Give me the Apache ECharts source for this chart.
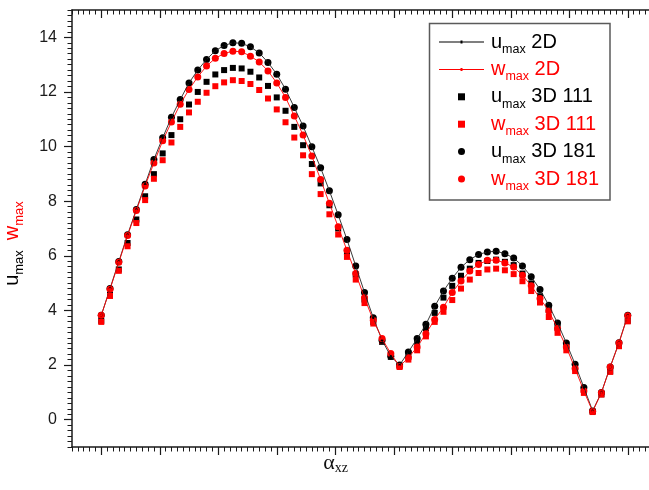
<!DOCTYPE html>
<html>
<head>
<meta charset="utf-8">
<script src="https://cdn.jsdelivr.net/npm/echarts@6/dist/echarts.min.js"></script>
<style>
  html, body { margin: 0; padding: 0; background: #ffffff; }
  #chart { width: 649px; height: 490px; }
</style>
</head>
<body>
<div id="chart"></div>
<script>
// Angle alpha_xz (degrees), one sample every 3 degrees
const alphaXZ = [0, 3, 6, 9, 12, 15, 18, 21, 24, 27, 30, 33, 36, 39, 42, 45, 48, 51, 54, 57,
  60, 63, 66, 69, 72, 75, 78, 81, 84, 87, 90, 93, 96, 99, 102, 105, 108, 111, 114, 117,
  120, 123, 126, 129, 132, 135, 138, 141, 144, 147, 150, 153, 156, 159, 162, 165, 168, 171, 174, 177, 180];

// u_max and w_max, 2D solution
const uMax2D = [3.82, 4.80, 5.79, 6.77, 7.70, 8.62, 9.53, 10.32, 11.07, 11.72,
  12.33, 12.80, 13.19, 13.51, 13.70, 13.80, 13.78, 13.65, 13.43, 13.08,
  12.65, 12.10, 11.43, 10.75, 9.99, 9.22, 8.38, 7.50, 6.60, 5.63,
  4.66, 3.73, 2.91, 2.32, 2.00, 2.48, 2.97, 3.49, 4.15, 4.71,
  5.18, 5.58, 5.86, 6.05, 6.14, 6.17, 6.08, 5.92, 5.63, 5.23,
  4.77, 4.19, 3.54, 2.81, 2.03, 1.18, 0.32, 1.00, 1.93, 2.82, 3.82];
const wMax2D = [3.82, 4.78, 5.76, 6.74, 7.66, 8.56, 9.40, 10.21, 10.90, 11.55,
  12.09, 12.55, 12.95, 13.23, 13.41, 13.49, 13.47, 13.31, 13.10, 12.77,
  12.33, 11.80, 11.12, 10.42, 9.65, 8.79, 7.92, 7.06, 6.20, 5.35,
  4.46, 3.64, 2.97, 2.42, 1.95, 2.27, 2.66, 3.15, 3.67, 4.12,
  4.66, 5.08, 5.44, 5.68, 5.84, 5.84, 5.74, 5.59, 5.29, 4.90,
  4.44, 3.98, 3.34, 2.66, 1.87, 1.05, 0.30, 0.99, 1.93, 2.81, 3.81];

// 3D solution, 111 grid
const uMax3D111 = [3.62, 4.57, 5.50, 6.47, 7.33, 8.18, 8.99, 9.75, 10.42, 11.00,
  11.54, 12.00, 12.37, 12.64, 12.80, 12.88, 12.86, 12.74, 12.53, 12.22,
  11.80, 11.31, 10.72, 10.05, 9.36, 8.65, 7.85, 7.00, 6.14, 5.32,
  4.40, 3.58, 2.85, 2.30, 1.98, 2.40, 2.85, 3.34, 3.91, 4.47,
  4.90, 5.27, 5.53, 5.74, 5.81, 5.86, 5.78, 5.66, 5.35, 4.99,
  4.52, 4.01, 3.37, 2.72, 1.93, 1.08, 0.30, 0.93, 1.77, 2.70, 3.62];
const wMax3D111 = [3.58, 4.53, 5.45, 6.35, 7.20, 8.04, 8.82, 9.50, 10.15, 10.72,
  11.25, 11.64, 11.97, 12.21, 12.35, 12.43, 12.40, 12.29, 12.07, 11.76,
  11.36, 10.89, 10.33, 9.68, 8.99, 8.26, 7.52, 6.78, 5.96, 5.13,
  4.27, 3.52, 2.90, 2.36, 1.93, 2.20, 2.54, 3.05, 3.58, 3.95,
  4.38, 4.80, 5.13, 5.37, 5.50, 5.53, 5.47, 5.33, 5.07, 4.71,
  4.29, 3.76, 3.18, 2.54, 1.78, 0.98, 0.28, 0.92, 1.75, 2.69, 3.60];

// 3D solution, 181 grid
const uMax3D181 = [3.82, 4.80, 5.79, 6.77, 7.70, 8.62, 9.53, 10.32, 11.07, 11.72,
  12.33, 12.80, 13.19, 13.51, 13.70, 13.80, 13.78, 13.65, 13.43, 13.08,
  12.65, 12.10, 11.43, 10.75, 9.99, 9.22, 8.38, 7.50, 6.60, 5.63,
  4.66, 3.73, 2.91, 2.32, 2.00, 2.48, 2.97, 3.49, 4.15, 4.71,
  5.18, 5.58, 5.86, 6.05, 6.14, 6.17, 6.08, 5.92, 5.63, 5.23,
  4.77, 4.19, 3.54, 2.81, 2.03, 1.18, 0.32, 1.00, 1.93, 2.82, 3.82];
const wMax3D181 = [3.82, 4.78, 5.76, 6.74, 7.66, 8.56, 9.40, 10.21, 10.90, 11.55,
  12.09, 12.55, 12.95, 13.23, 13.41, 13.49, 13.47, 13.31, 13.10, 12.77,
  12.33, 11.80, 11.12, 10.42, 9.65, 8.79, 7.92, 7.06, 6.20, 5.35,
  4.46, 3.64, 2.97, 2.42, 1.95, 2.27, 2.66, 3.15, 3.67, 4.12,
  4.66, 5.08, 5.44, 5.68, 5.84, 5.84, 5.74, 5.59, 5.29, 4.90,
  4.44, 3.98, 3.34, 2.66, 1.87, 1.05, 0.30, 0.99, 1.93, 2.81, 3.81];

// Major tick positions
const xMajorTicks = [0, 20, 40, 60, 80, 100, 120, 140, 160, 180];
const yMajorTicks = [0, 2, 4, 6, 8, 10, 12, 14];

const BLACK = '#000000';
const RED = '#ff0000';
const AXIS = '#1a1a1a';
const SANS = '"Liberation Sans", Arial, sans-serif';
const SERIF = '"Liberation Serif", "Times New Roman", serif';

function pairs(values) {
  return alphaXZ.map((a, i) => [a, values[i]]);
}

const xRange = { min: -10, max: 190 };
const yRange = { min: -1, max: 15 };

function minorX(position) {
  return {
    type: 'value', position, ...xRange, interval: 2,
    axisLine: { show: true, onZero: false, lineStyle: { color: AXIS, width: 1.5 } },
    axisTick: { show: true, inside: position === 'top', length: 4.5, lineStyle: { color: AXIS, width: 1 } },
    axisLabel: { show: false }, splitLine: { show: false }
  };
}
function majorX(position, extra) {
  return Object.assign({
    type: 'value', position, ...xRange,
    axisLine: { show: false, onZero: false },
    axisTick: { show: true, inside: position === 'top', length: 8, customValues: xMajorTicks, lineStyle: { color: AXIS, width: 1.2 } },
    axisLabel: { show: false }, splitLine: { show: false }
  }, extra || {});
}
function minorY(position) {
  return {
    type: 'value', position, ...yRange, interval: 0.2,
    axisLine: { show: true, onZero: false, lineStyle: { color: AXIS, width: 1.5 } },
    axisTick: { show: true, inside: position === 'right', length: 4.5, lineStyle: { color: AXIS, width: 1 } },
    axisLabel: { show: false }, splitLine: { show: false }
  };
}
function majorY(position, extra) {
  return Object.assign({
    type: 'value', position, ...yRange,
    axisLine: { show: false, onZero: false },
    axisTick: { show: true, inside: position === 'right', length: 8, customValues: yMajorTicks, lineStyle: { color: AXIS, width: 1.2 } },
    axisLabel: { show: false }, splitLine: { show: false }
  }, extra || {});
}

const legendNames = {
  'u2D':   { sym: 'u', tag: '2D',     red: false },
  'w2D':   { sym: 'w', tag: '2D',     red: true },
  'u3D111': { sym: 'u', tag: '3D 111', red: false },
  'w3D111': { sym: 'w', tag: '3D 111', red: true },
  'u3D181': { sym: 'u', tag: '3D 181', red: false },
  'w3D181': { sym: 'w', tag: '3D 181', red: true }
};

// Legend glyphs: thin line with a small dot, and a square marker
const lineIcon = 'path://M0,3h45v1h-45z M21.5,2h2v3h-2z';
const squareIcon = 'path://M0,0h7v7h-7z';

const chart = echarts.init(document.getElementById('chart'), null, { renderer: 'canvas' });
chart.setOption({
  animation: false,
  backgroundColor: '#ffffff',
  grid: { left: 72, top: 10, width: 585, height: 437, outerBoundsMode: 'none', containLabel: false },
  xAxis: [
    minorX('bottom'),
    majorX('bottom', {
      name: '{a|α}{x|xz}',
      nameLocation: 'middle',
      nameGap: 4,
      nameTextStyle: {
        padding: [0, 58, 0, 0],
        rich: {
          a: { fontFamily: SERIF, fontSize: 22, lineHeight: 24, color: '#111' },
          x: { fontFamily: SERIF, fontSize: 14, lineHeight: 10, color: '#111', verticalAlign: 'bottom' }
        }
      }
    }),
    minorX('top'),
    majorX('top')
  ],
  yAxis: [
    minorY('left'),
    majorY('left', {
      axisLabel: { show: true, customValues: yMajorTicks, margin: 15, fontFamily: SANS, fontSize: 16, color: '#1a1a1a' },
      name: '{mk|u}{sk|max}   {mr|w}{sr|max}',
      nameLocation: 'middle',
      nameRotate: 90,
      nameGap: 46,
      nameTextStyle: {
        padding: [0, 30, 0, 0],
        rich: {
          mk: { fontFamily: SANS, fontSize: 20, lineHeight: 28, color: BLACK },
          sk: { fontFamily: SANS, fontSize: 13, lineHeight: 12, color: BLACK, verticalAlign: 'bottom' },
          mr: { fontFamily: SANS, fontSize: 20, lineHeight: 28, color: RED },
          sr: { fontFamily: SANS, fontSize: 13, lineHeight: 12, color: RED, verticalAlign: 'bottom' }
        }
      }
    }),
    minorY('right'),
    majorY('right')
  ],
  legend: {
    orient: 'vertical',
    left: 439,
    top: 32,
    padding: 0,
    itemWidth: 45,
    itemHeight: 7,
    itemGap: 3.4,
    selectedMode: false,
    itemStyle: { borderWidth: 0 },
    data: [
      { name: 'u2D', icon: lineIcon },
      { name: 'w2D', icon: lineIcon },
      { name: 'u3D111', icon: squareIcon },
      { name: 'w3D111', icon: squareIcon },
      { name: 'u3D181', icon: 'circle' },
      { name: 'w3D181', icon: 'circle' }
    ],
    formatter: function (name) {
      const d = legendNames[name];
      const k = d.red ? 'r' : 'k';
      return '{m' + k + '|' + d.sym + '}{s' + k + '|max}{t' + k + '| ' + d.tag + '}';
    },
    textStyle: {
      fontFamily: SANS,
      rich: {
        mk: { fontFamily: SANS, fontSize: 20, lineHeight: 28, color: BLACK, padding: [0, 0, 0, 2] },
        sk: { fontFamily: SANS, fontSize: 12.5, lineHeight: 12, color: BLACK, verticalAlign: 'bottom' },
        tk: { fontFamily: SANS, fontSize: 20, lineHeight: 28, color: BLACK },
        mr: { fontFamily: SANS, fontSize: 20, lineHeight: 28, color: RED, padding: [0, 0, 0, 2] },
        sr: { fontFamily: SANS, fontSize: 12.5, lineHeight: 12, color: RED, verticalAlign: 'bottom' },
        tr: { fontFamily: SANS, fontSize: 20, lineHeight: 28, color: RED }
      }
    }
  },
  graphic: [
    {
      type: 'rect',
      shape: { x: 429.5, y: 23.5, width: 180.5, height: 176.5 },
      style: { fill: 'none', stroke: '#5a5a5a', lineWidth: 1.5 },
      silent: true,
      z: 100
    }
  ],
  series: [
    {
      name: 'u2D', type: 'line', data: pairs(uMax2D),
      symbol: 'circle', symbolSize: 2.5, showSymbol: true,
      lineStyle: { color: '#222', width: 0.9 }, itemStyle: { color: BLACK }
    },
    {
      name: 'w2D', type: 'line', data: pairs(wMax2D),
      symbol: 'circle', symbolSize: 2.5, showSymbol: true,
      lineStyle: { color: RED, width: 0.9 }, itemStyle: { color: RED }
    },
    {
      name: 'u3D111', type: 'scatter', data: pairs(uMax3D111),
      symbol: 'rect', symbolSize: 6, itemStyle: { color: BLACK, opacity: 1 }
    },
    {
      name: 'w3D111', type: 'scatter', data: pairs(wMax3D111),
      symbol: 'rect', symbolSize: 6, itemStyle: { color: RED, opacity: 1 }
    },
    {
      name: 'u3D181', type: 'scatter', data: pairs(uMax3D181),
      symbol: 'circle', symbolSize: 7, itemStyle: { color: BLACK, opacity: 1 }
    },
    {
      name: 'w3D181', type: 'scatter', data: pairs(wMax3D181),
      symbol: 'circle', symbolSize: 7, itemStyle: { color: RED, opacity: 1 }
    }
  ]
});
</script>
</body>
</html>
